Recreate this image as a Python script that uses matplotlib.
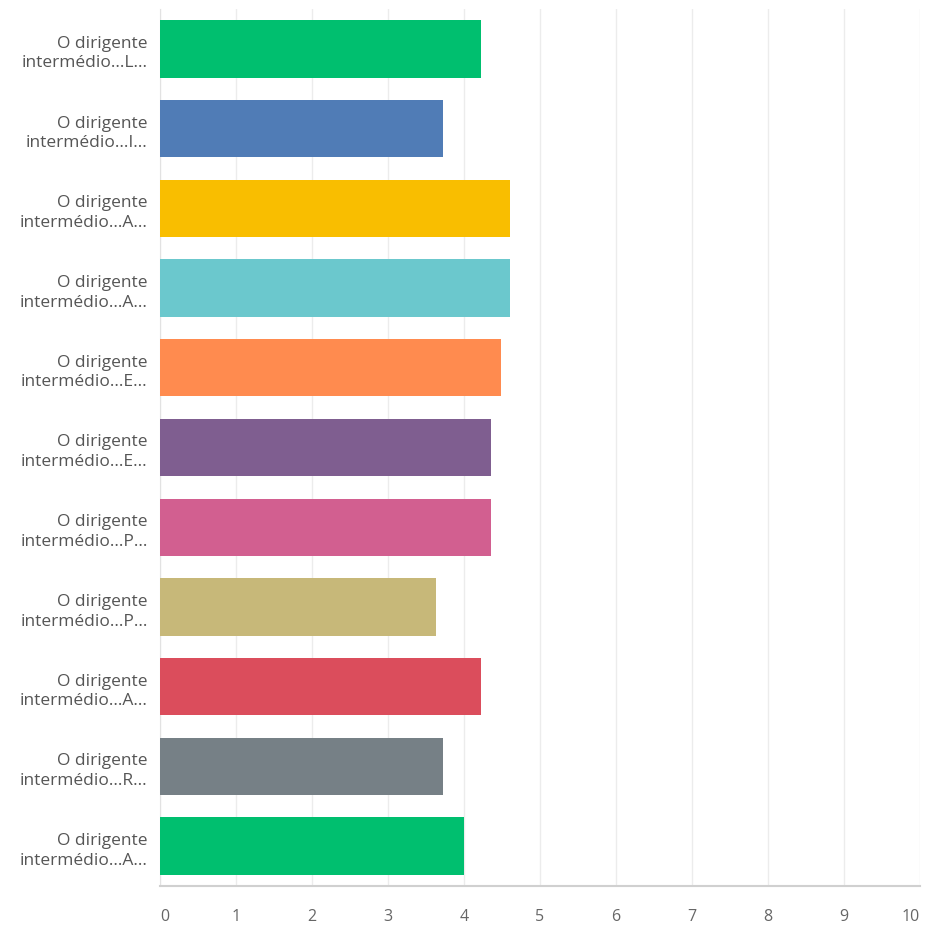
import matplotlib
matplotlib.use("Agg")
import matplotlib.pyplot as plt
import numpy as np

# short labels (truncated question text) and mean scores
initials = ["L", "I", "A", "A", "E", "E", "P", "P", "A", "R", "A"]
labels = ["O dirigente\nintermédio…%s…" % c for c in initials]
scores = [4.23, 3.73, 4.61, 4.61, 4.49, 4.36, 4.36, 3.63, 4.23, 3.73, 4.00]
colors = ["#00BF6F", "#507CB6", "#F9BE00", "#6BC8CD", "#FF8B4F", "#7F5E90",
          "#D25F90", "#C7B879", "#DB4D5C", "#768086", "#00BF6F"]

plt.rcParams["font.family"] = ["Open Sans", "DejaVu Sans"]

fig = plt.figure(figsize=(9.26, 9.28), dpi=100)
ax = fig.add_axes([160 / 926, 41 / 928, 760 / 926, 877 / 928])

y = np.arange(len(scores))
ax.barh(y, scores, height=0.72, color=colors, zorder=3)

ax.set_xlim(0, 10)
ax.set_ylim(len(scores) - 0.5, -0.5)
ax.set_xticks(range(11))
ax.set_yticks(y)
ax.set_yticklabels(labels, fontsize=12.5, color="#555555", linespacing=1.3)
ax.tick_params(axis="x", labelsize=11.5, labelcolor="#666666", length=0, pad=16)
ax.tick_params(axis="y", length=0, pad=9)

# keep the end labels inside the figure
xlabels = ax.get_xticklabels()
xlabels[0].set_horizontalalignment("left")
xlabels[-1].set_horizontalalignment("right")

ax.grid(axis="x", color="#ececec", linewidth=1, zorder=0)
for side in ["top", "right"]:
    ax.spines[side].set_visible(False)
ax.spines["left"].set_color("#e2e2e2")
ax.spines["bottom"].set_color("#d0d0d0")
ax.spines["bottom"].set_linewidth(1.5)

fig.savefig("out.png", dpi=100)
plt.close(fig)
